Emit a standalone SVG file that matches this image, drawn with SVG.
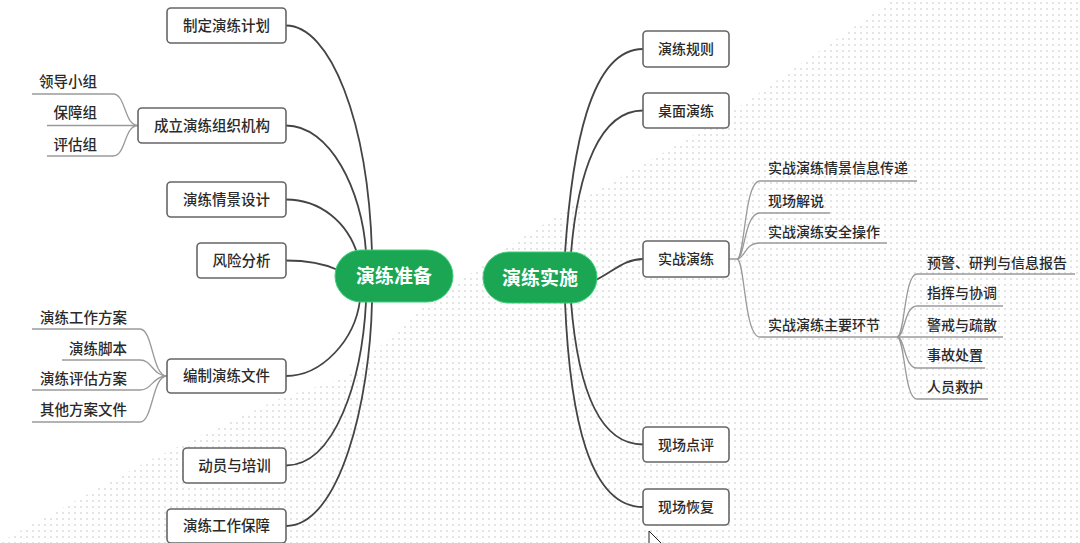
<svg xmlns="http://www.w3.org/2000/svg" width="1080" height="543" viewBox="0 0 1080 543">
<defs>
<pattern id="dots" width="6" height="6" patternUnits="userSpaceOnUse">
<circle cx="3" cy="3" r="0.8" fill="#c2c2c2"/>
</pattern>
<style>
.box{fill:#fff;stroke:#666;stroke-width:1.6}
.bt{font-family:"Noto Sans CJK SC","Noto Sans",sans-serif;font-size:14.5px;fill:#2a2a2a;text-anchor:middle;font-weight:500}
.rt{font-family:"Noto Sans CJK SC","Noto Sans",sans-serif;font-size:14px;fill:#2a2a2a;text-anchor:middle;font-weight:500}
.st{font-family:"Noto Sans CJK SC","Noto Sans",sans-serif;font-size:14.5px;fill:#2a2a2a;font-weight:500}
.sr{font-family:"Noto Sans CJK SC","Noto Sans",sans-serif;font-size:14px;fill:#2a2a2a;font-weight:500}
.pill{fill:#1aa653;stroke:#3dd07a;stroke-width:1}
.pt{font-family:"Noto Sans CJK SC","Noto Sans",sans-serif;font-size:19px;font-weight:bold;fill:#fff;text-anchor:middle}
.main{fill:none;stroke:#444;stroke-width:1.8}
.sub{fill:none;stroke:#9a9a9a;stroke-width:1.3}
</style>
</defs>
<rect width="1080" height="543" fill="#fff"/>
<polygon points="0,542 150,460 283,397 345,378 420,310 503,250 590,195 720,120 893,0 1080,0 1080,543 0,543" fill="url(#dots)"/>

<g id="connectors">
<path class="main" d="M286,25.5 C330,25.5 368,120 372,252"/>
<path class="main" d="M286,125.5 C330,125.5 362,190 366,252"/>
<path class="main" d="M286,199.5 C320,199.5 348,222 358,256"/>
<path class="main" d="M286,260.5 C310,260.5 325,264 338,270"/>
<path class="main" d="M286,376 C322,376 355,340 360,300"/>
<path class="main" d="M286,465.5 C335,465.5 362,380 366,302"/>
<path class="main" d="M286,526 C340,526 370,400 372,302"/>

<path class="main" d="M565,253 C572,150 590,49 643,49"/>
<path class="main" d="M571,253 C578,170 600,110.5 643,110.5"/>
<path class="main" d="M596,280 C615,270 625,259 643,259"/>
<path class="main" d="M571,302 C578,390 600,444.5 643,444.5"/>
<path class="main" d="M565,302 C570,420 590,507 643,507"/>

<path class="sub" d="M32,94 L113,94 C126,94 124,125.5 138,125.5"/>
<path class="sub" d="M47,125.5 L138,125.5"/>
<path class="sub" d="M47,156 L113,156 C126,156 124,125.5 138,125.5"/>

<path class="sub" d="M32,329 L140,329 C153,329 152,376 167,376"/>
<path class="sub" d="M62,360 L140,360 C152,360 153,376 167,376"/>
<path class="sub" d="M32,390 L140,390 C152,390 153,376 167,376"/>
<path class="sub" d="M32,422 L140,422 C153,422 152,376 167,376"/>

<path class="sub" d="M729,259 L737,259 C745,259 744,181 760,181 L917,181"/>
<path class="sub" d="M737,259 C745,259 744,213 760,213 L830,213"/>
<path class="sub" d="M737,259 C745,259 744,243 760,243 L887,243"/>
<path class="sub" d="M737,259 C745,259 744,337 760,337 L1003,337"/>

<path class="sub" d="M897,337 C905,337 904,274 917,274 L1075,274"/>
<path class="sub" d="M897,337 C905,337 904,306 917,306 L1003,306"/>
<path class="sub" d="M897,337 C905,337 904,368 917,368 L985,368"/>
<path class="sub" d="M897,337 C905,337 904,399 917,399 L988,399"/>
</g>

<g id="root-left"><rect class="pill" x="335" y="250" width="118" height="52" rx="26"/><text class="pt" x="394" y="283">演练准备</text></g>
<g id="root-right"><rect class="pill" x="483" y="252" width="114" height="51" rx="25.5"/><text class="pt" x="540" y="284.5">演练实施</text></g>

<g id="n-plan"><rect class="box" x="167" y="8" width="119" height="35" rx="4"/><text class="bt" x="226.5" y="30.5">制定演练计划</text></g>
<g id="n-org"><rect class="box" x="138" y="108" width="148" height="35" rx="4"/><text class="bt" x="212" y="130.5">成立演练组织机构</text></g>
<g id="n-org-1"><text class="st" x="97" y="87" text-anchor="end">领导小组</text></g>
<g id="n-org-2"><text class="st" x="97" y="118" text-anchor="end">保障组</text></g>
<g id="n-org-3"><text class="st" x="97" y="150" text-anchor="end">评估组</text></g>
<g id="n-scene"><rect class="box" x="167" y="182" width="119" height="35" rx="4"/><text class="bt" x="226.5" y="204.5">演练情景设计</text></g>
<g id="n-risk"><rect class="box" x="197" y="243" width="89" height="35" rx="4"/><text class="bt" x="241.5" y="265.5">风险分析</text></g>
<g id="n-doc"><rect class="box" x="167" y="359" width="119" height="34" rx="4"/><text class="bt" x="226.5" y="381">编制演练文件</text></g>
<g id="n-doc-1"><text class="st" x="127" y="323" text-anchor="end">演练工作方案</text></g>
<g id="n-doc-2"><text class="st" x="127" y="354" text-anchor="end">演练脚本</text></g>
<g id="n-doc-3"><text class="st" x="127" y="384" text-anchor="end">演练评估方案</text></g>
<g id="n-doc-4"><text class="st" x="127" y="415" text-anchor="end">其他方案文件</text></g>
<g id="n-train"><rect class="box" x="183" y="448" width="103" height="35" rx="4"/><text class="bt" x="234.5" y="470.5">动员与培训</text></g>
<g id="n-support"><rect class="box" x="167" y="509" width="119" height="34" rx="4"/><text class="bt" x="226.5" y="531">演练工作保障</text></g>

<g id="n-rules"><rect class="box" x="643" y="31" width="86" height="36" rx="4"/><text class="rt" x="686" y="54">演练规则</text></g>
<g id="n-table"><rect class="box" x="643" y="93" width="86" height="35" rx="4"/><text class="rt" x="686" y="115.5">桌面演练</text></g>
<g id="n-live"><rect class="box" x="643" y="241" width="86" height="36" rx="4"/><text class="rt" x="686" y="264">实战演练</text></g>
<g id="n-live-1"><text class="sr" x="768" y="173">实战演练情景信息传递</text></g>
<g id="n-live-2"><text class="sr" x="768" y="206">现场解说</text></g>
<g id="n-live-3"><text class="sr" x="768" y="237">实战演练安全操作</text></g>
<g id="n-live-4"><text class="sr" x="768" y="330">实战演练主要环节</text></g>
<g id="n-step-1"><text class="sr" x="927" y="268">预警、研判与信息报告</text></g>
<g id="n-step-2"><text class="sr" x="927" y="298">指挥与协调</text></g>
<g id="n-step-3"><text class="sr" x="927" y="330">警戒与疏散</text></g>
<g id="n-step-4"><text class="sr" x="927" y="360">事故处置</text></g>
<g id="n-step-5"><text class="sr" x="927" y="392">人员救护</text></g>
<g id="n-review"><rect class="box" x="643" y="427" width="86" height="35" rx="4"/><text class="rt" x="686" y="449.5">现场点评</text></g>
<g id="n-restore"><rect class="box" x="643" y="489" width="86" height="36" rx="4"/><text class="rt" x="686" y="512">现场恢复</text></g>

<polygon points="649,531 649,550 653.5,545.5 657,553 660,551.5 656.5,544.5 662.5,544.5" fill="#fff" stroke="#222" stroke-width="1"/>
</svg>
